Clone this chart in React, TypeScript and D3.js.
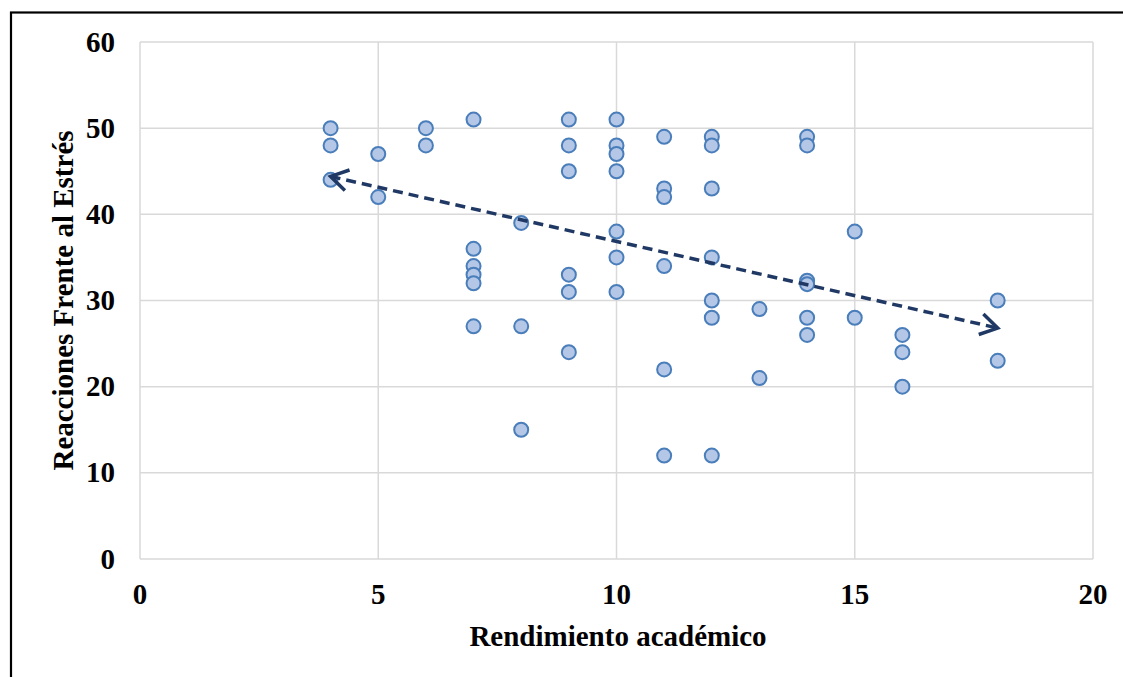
import React from "react";
import * as d3 from "d3";

const xs = [
  4, 4, 4,
  5, 5,
  6, 6,
  7, 7, 7, 7, 7, 7,
  8, 8, 8,
  9, 9, 9, 9, 9, 9,
  10, 10, 10, 10, 10, 10, 10,
  11, 11, 11, 11, 11, 11,
  12, 12, 12, 12, 12, 12, 12,
  13, 13,
  14, 14, 14, 14, 14, 14,
  15, 15,
  16, 16, 16,
  18, 18,
];
const ys = [
  50, 48, 44,
  47, 42,
  50, 48,
  51, 36, 34, 33, 32, 27,
  39, 27, 15,
  51, 48, 45, 33, 31, 24,
  51, 48, 47, 45, 38, 35, 31,
  49, 43, 42, 34, 22, 12,
  49, 48, 43, 35, 30, 28, 12,
  29, 21,
  49, 48, 32.3, 31.9, 28, 26,
  38, 28,
  26, 24, 20,
  30, 23,
];
const trendX = [4, 18];
const trendY = [44.4, 26.8];
const xTicks = [0, 5, 10, 15, 20];
const yTicks = [0, 10, 20, 30, 40, 50, 60];
const xTitle = "Rendimiento académico";
const yTitle = "Reacciones Frente al Estrés";

const W = 1123;
const H = 677;
const left = 140;
const right = 1093;
const top = 42;
const bottom = 559;

export default function App() {
  const x = d3.scaleLinear().domain([0, 20]).range([left, right]);
  const y = d3.scaleLinear().domain([0, 60]).range([bottom, top]);
  const font = "'Liberation Serif', 'Times New Roman', serif";
  const grid = "#d9d9d9";
  const navy = "#203864";
  const fs = 29;
  const line = d3.line<number>()
    .x((_, i) => x(trendX[i]))
    .y((d) => y(d));
  const x1 = x(trendX[0]), y1 = y(trendY[0]);
  const x2 = x(trendX[1]), y2 = y(trendY[1]);
  const ang = Math.atan2(y2 - y1, x2 - x1);
  const head = (px: number, py: number, a: number) => {
    const L = 20, spread = 0.55;
    const p1 = [px - L * Math.cos(a - spread), py - L * Math.sin(a - spread)];
    const p2 = [px - L * Math.cos(a + spread), py - L * Math.sin(a + spread)];
    return `M${p1[0]},${p1[1]}L${px},${py}L${p2[0]},${p2[1]}`;
  };
  return (
    <svg
      width={W}
      height={H}
      style={{ position: "absolute", left: 0, top: 0, background: "#fff" }}
    >
      <rect x={0} y={0} width={W} height={H} fill="#fff" />
      <rect x={11} y={12.5} width={W + 20} height={H + 20} fill="none" stroke="#000" strokeWidth={2.2} />
      {xTicks.map((t) => (
        <line key={"gx" + t} x1={x(t)} x2={x(t)} y1={top} y2={bottom} stroke={grid} strokeWidth={1.5} />
      ))}
      {yTicks.map((t) => (
        <line key={"gy" + t} x1={left} x2={right} y1={y(t)} y2={y(t)} stroke={grid} strokeWidth={1.5} />
      ))}
      {yTicks.map((t) => (
        <text key={"ty" + t} x={115} y={y(t)} dy="0.33em" textAnchor="end" fontFamily={font} fontWeight="bold" fontSize={fs} fill="#000">
          {t}
        </text>
      ))}
      {xTicks.map((t) => (
        <text key={"tx" + t} x={x(t)} y={604} textAnchor="middle" fontFamily={font} fontWeight="bold" fontSize={fs} fill="#000">
          {t}
        </text>
      ))}
      <text x={618} y={646} textAnchor="middle" fontFamily={font} fontWeight="bold" fontSize={fs} fill="#000">
        {xTitle}
      </text>
      <text
        transform={`translate(73,${(top + bottom) / 2}) rotate(-90)`}
        textAnchor="middle"
        fontFamily={font}
        fontWeight="bold"
        fontSize={fs}
        fill="#000"
      >
        {yTitle}
      </text>
      {xs.map((v, i) => (
        <circle key={"p" + i} cx={x(v)} cy={y(ys[i])} r={7} fill="#b4c7e7" stroke="#4a7ebb" strokeWidth={2} />
      ))}
      <path d={line(trendY) || ""} fill="none" stroke={navy} strokeWidth={3.5} strokeDasharray="10 6" />
      <path d={head(x2, y2, ang)} fill="none" stroke={navy} strokeWidth={3.5} />
      <path d={head(x1, y1, ang + Math.PI)} fill="none" stroke={navy} strokeWidth={3.5} />
    </svg>
  );
}
